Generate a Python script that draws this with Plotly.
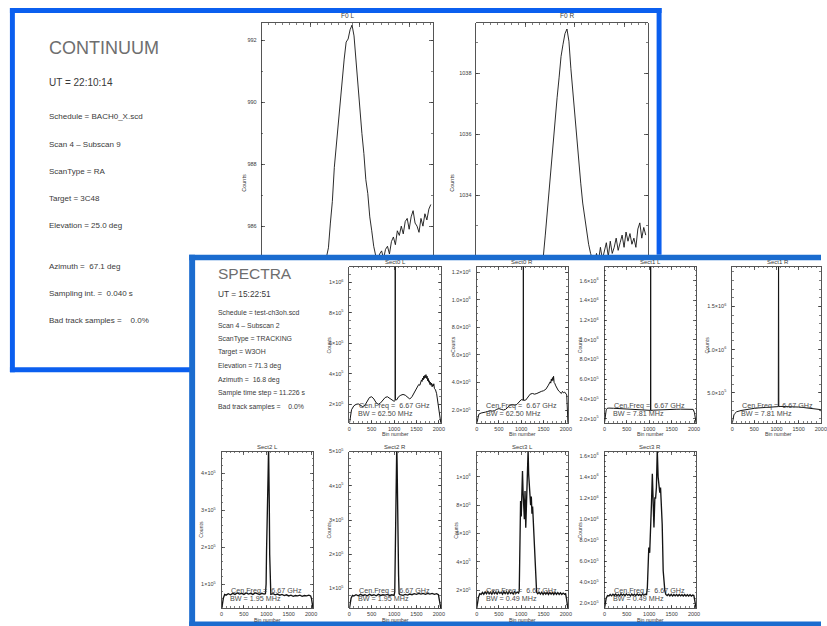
import plotly.graph_objects as go

W, H = 827, 626
FONT = "Liberation Sans"
INK = "#141414"
AXC = "#2a2a2a"
TXT = "#3a3a3a"
TITLE_C = "#6e6e6e"
BLUE_TOP = "#0b5fef"
BLUE_BOT = "#1b6ccf"

# ---------------------------------------------------------------- data
F0_STEP = 4  # samples between stored points of the continuum scans
F0_L_COUNTS = [
    984.2, 984.5, 984.3, 984.1, 984.4, 984.6, 984.3, 984.2, 984.5, 984.4,
    984.1, 984.3, 984.6, 984.4, 984.2, 984.5, 984.3, 984.4, 984.6, 984.2,
    984.3, 984.5, 984.4, 984.6, 984.3, 984.5, 984.7, 984.4, 984.6, 984.8,
    984.5, 984.7, 984.9,
    985.0, 985.3, 986.1, 986.8, 987.9, 988.6, 989.5, 990.1, 990.9, 991.4,
    991.95, 992.05, 992.35, 992.5, 992.15, 991.3, 990.4, 989.75, 989.0, 988.35,
    987.5, 987.05, 986.3, 985.85, 985.35, 985.05, 984.9, 985.1, 985.2, 984.95,
    985.25, 985.35, 985.1, 985.5, 985.65, 985.4, 985.85, 985.7, 986.0, 985.75,
    986.15, 986.25, 985.9, 986.3, 986.5, 986.1, 986.0, 985.8, 986.25, 986.0,
    986.4, 986.2, 986.55, 986.7,
]
F0_R_COUNTS = [
    1031.4, 1031.6, 1031.3, 1031.5, 1031.7, 1031.4, 1031.5, 1031.2, 1031.6, 1031.5,
    1031.3, 1031.7, 1031.4, 1031.6, 1031.5, 1031.3, 1031.6, 1031.8, 1031.5, 1031.4,
    1031.7, 1031.5, 1031.6, 1031.3, 1031.7, 1031.5, 1031.8, 1031.6, 1031.4, 1031.7,
    1031.5, 1031.8, 1031.6,
    1031.8, 1032.0, 1032.7, 1033.5, 1034.2, 1034.95, 1035.6, 1036.45, 1037.2, 1037.85,
    1038.55, 1038.95, 1039.3, 1039.45, 1039.05, 1038.15, 1037.35, 1036.85, 1035.95, 1035.25,
    1034.4, 1033.75, 1033.25, 1032.75, 1032.4, 1032.1, 1031.9, 1031.8, 1032.1, 1031.85,
    1032.3, 1031.9, 1032.2, 1032.45, 1032.0, 1032.5, 1032.1, 1032.3, 1032.6, 1032.2,
    1032.45, 1032.7, 1032.3, 1032.8, 1032.5, 1032.75, 1032.4, 1032.6, 1032.3, 1032.9,
    1033.1, 1032.6, 1032.95, 1032.7,
]
F0_L_TICKS = [986, 988, 990, 992]
F0_R_TICKS = [1034, 1036, 1038]
F0_NAMES = ["F0 L", "F0 R"]

# spectra: (bin number, counts in units of 1e5)
SECT0_L = [(0, 0.7), (20, 1.2), (50, 1.65), (100, 1.9), (150, 2.0), (200, 2.03), (250, 1.95),
           (300, 1.85), (350, 1.95), (400, 2.25), (450, 2.45), (500, 2.5), (550, 2.35), (600, 2.1),
           (650, 2.0), (700, 2.1), (750, 2.3), (800, 2.45), (850, 2.5), (900, 2.4), (950, 2.25),
           (1000, 2.2), (1022, 2.25), (1026, 12.0), (1030, 2.3), (1060, 2.3), (1100, 2.5),
           (1150, 2.6), (1200, 2.65), (1250, 2.6), (1300, 2.45), (1350, 2.35), (1400, 2.5),
           (1450, 2.8), (1500, 3.05), (1550, 3.3), (1575, 3.25), (1600, 3.45), (1612, 3.6),
           (1625, 3.5), (1637, 3.72), (1650, 3.6), (1662, 3.85), (1675, 3.7), (1687, 3.9),
           (1700, 3.75), (1712, 3.95), (1725, 3.7), (1737, 3.85), (1750, 3.55), (1762, 3.7),
           (1775, 3.45), (1787, 3.55), (1800, 3.3), (1812, 3.45), (1825, 3.25), (1837, 3.4),
           (1850, 3.15), (1862, 3.3), (1875, 3.2), (1887, 3.35), (1900, 3.05), (1925, 2.95),
           (1950, 2.7), (1975, 2.2), (2000, 1.6), (2020, 1.1), (2047, 0.7)]
SECT0_R = [(0, 1.0), (20, 1.4), (50, 1.7), (100, 1.78), (150, 1.8), (200, 1.85), (250, 1.9),
           (300, 1.95), (350, 1.92), (400, 1.95), (450, 2.05), (500, 2.1), (550, 2.05), (600, 2.0),
           (650, 2.05), (700, 2.2), (750, 2.35), (800, 2.4), (850, 2.35), (900, 2.4), (950, 2.55),
           (1000, 2.75), (1043, 2.72), (1047, 13.0), (1051, 2.7), (1100, 2.72), (1150, 2.95),
           (1200, 3.15), (1250, 3.2), (1300, 3.15), (1350, 3.2), (1400, 3.3), (1450, 3.35),
           (1500, 3.4), (1550, 3.5), (1600, 3.75), (1625, 3.9), (1650, 4.05), (1662, 3.95),
           (1675, 4.25), (1687, 4.1), (1700, 4.35), (1712, 4.15), (1725, 4.45), (1737, 4.0),
           (1750, 3.95), (1775, 3.75), (1800, 3.55), (1825, 3.45), (1850, 3.35), (1875, 3.3),
           (1900, 3.2), (1925, 3.35), (1950, 3.25), (1975, 3.3), (2000, 3.2), (2020, 3.1),
           (2035, 2.0), (2047, 1.0)]
SECT1_L = [(0, 1.5), (20, 2.4), (40, 2.9), (60, 3.05), (100, 3.08), (200, 3.06), (300, 3.04),
           (400, 3.0), (500, 2.98), (600, 2.95), (700, 2.92), (800, 2.9), (900, 2.88), (1000, 2.85),
           (1028, 2.85), (1032, 20.0), (1036, 2.85), (1100, 2.87), (1200, 2.9), (1300, 2.92),
           (1400, 2.94), (1500, 2.95), (1600, 2.96), (1700, 2.97), (1800, 2.97), (1900, 2.96),
           (1980, 2.95), (2010, 2.6), (2030, 2.0), (2047, 1.5)]
SECT1_R = [(0, 1.4), (20, 2.0), (40, 2.45), (60, 2.6), (100, 2.8), (200, 2.95), (300, 3.05),
           (400, 3.15), (500, 3.2), (600, 3.25), (700, 3.3), (800, 3.35), (900, 3.38), (1000, 3.4),
           (1040, 3.4), (1046, 25.0), (1052, 3.4), (1100, 3.42), (1200, 3.42), (1300, 3.4),
           (1400, 3.38), (1500, 3.35), (1600, 3.3), (1700, 3.25), (1800, 3.2), (1900, 3.12),
           (2000, 3.05), (2030, 2.5), (2047, 1.5)]
SECT2_L = [(0, 0.3), (15, 0.45), (40, 0.62), (70, 0.72), (100, 0.7), (150, 0.74), (200, 0.71),
           (250, 0.75), (300, 0.72), (350, 0.76), (400, 0.73), (450, 0.75), (500, 0.72), (550, 0.76),
           (600, 0.73), (650, 0.75), (700, 0.72), (750, 0.76), (800, 0.74), (850, 0.72), (900, 0.75),
           (950, 0.73), (980, 0.74), (995, 1.0), (1005, 1.9), (1015, 3.0), (1022, 2.8), (1030, 3.6),
           (1040, 4.0), (1050, 4.7), (1058, 4.3), (1066, 3.2), (1075, 1.8), (1085, 0.9), (1100, 0.72),
           (1150, 0.74), (1200, 0.71), (1250, 0.73), (1300, 0.7), (1350, 0.72), (1400, 0.69),
           (1450, 0.71), (1500, 0.68), (1550, 0.7), (1600, 0.67), (1650, 0.69), (1700, 0.68),
           (1750, 0.7), (1800, 0.67), (1850, 0.69), (1900, 0.68), (1950, 0.7), (1990, 0.68),
           (2010, 0.6), (2030, 0.45), (2047, 0.3)]
SECT2_R = [(0, 0.4), (15, 0.55), (40, 0.72), (70, 0.8), (100, 0.78), (150, 0.82), (200, 0.79),
           (250, 0.83), (300, 0.8), (350, 0.82), (400, 0.79), (450, 0.83), (500, 0.8), (550, 0.82),
           (600, 0.79), (650, 0.83), (700, 0.8), (750, 0.82), (800, 0.81), (850, 0.83), (900, 0.8),
           (950, 0.82), (1000, 0.8), (1015, 0.9), (1025, 1.8), (1035, 3.0), (1045, 4.4), (1052, 4.0),
           (1060, 5.2), (1068, 4.6), (1078, 3.2), (1088, 2.6), (1100, 1.4), (1112, 0.85), (1130, 0.82),
           (1200, 0.8), (1250, 0.83), (1300, 0.81), (1350, 0.84), (1400, 0.82), (1450, 0.85),
           (1500, 0.83), (1550, 0.86), (1600, 0.84), (1650, 0.86), (1700, 0.83), (1750, 0.86),
           (1800, 0.84), (1850, 0.86), (1900, 0.83), (1950, 0.85), (1990, 0.82), (2010, 0.7),
           (2030, 0.55), (2047, 0.4)]
SECT3_L = [(0, 0.7), (15, 1.1), (40, 1.5), (70, 1.75), (100, 1.7), (130, 1.85), (160, 1.72),
           (190, 1.88), (220, 1.75), (250, 1.9), (280, 1.74), (310, 1.86), (340, 1.72), (370, 1.9),
           (400, 1.76), (430, 1.87), (460, 1.73), (490, 1.9), (520, 1.78), (550, 1.86), (580, 1.72),
           (610, 1.89), (640, 1.76), (670, 1.88), (700, 1.74), (730, 1.9), (760, 1.77), (790, 1.86),
           (820, 1.73), (850, 1.9), (880, 1.78), (910, 1.87), (940, 1.8), (955, 1.95), (970, 4.3),
           (985, 8.3), (1000, 7.2), (1015, 8.8), (1028, 10.4), (1040, 9.0), (1055, 7.4), (1070, 7.0),
           (1085, 9.0), (1101, 6.4), (1115, 7.8), (1130, 9.8), (1142, 10.6), (1154, 11.9),
           (1166, 10.2), (1180, 9.5), (1195, 9.0), (1210, 8.0), (1226, 8.6), (1240, 7.4),
           (1255, 7.9), (1270, 6.8), (1285, 5.5), (1299, 4.3), (1315, 3.0), (1330, 2.2),
           (1345, 1.85), (1370, 1.75), (1400, 1.85), (1430, 1.72), (1460, 1.86), (1490, 1.7),
           (1520, 1.85), (1550, 1.72), (1580, 1.84), (1610, 1.7), (1640, 1.85), (1670, 1.72),
           (1700, 1.83), (1730, 1.7), (1760, 1.84), (1790, 1.71), (1820, 1.83), (1850, 1.7),
           (1880, 1.82), (1910, 1.7), (1940, 1.8), (1970, 1.72), (1995, 1.75), (2015, 1.4),
           (2035, 1.0), (2047, 0.7)]
SECT3_R = [(0, 1.5), (15, 2.0), (40, 2.5), (70, 2.75), (100, 2.7), (130, 2.85), (160, 2.72),
           (190, 2.88), (220, 2.75), (250, 2.9), (280, 2.74), (310, 2.86), (340, 2.72), (370, 2.9),
           (400, 2.76), (430, 2.87), (460, 2.73), (490, 2.9), (520, 2.78), (550, 2.86), (580, 2.72),
           (610, 2.89), (640, 2.76), (670, 2.88), (700, 2.74), (730, 2.9), (760, 2.77), (790, 2.86),
           (820, 2.73), (850, 2.9), (880, 2.78), (910, 2.87), (940, 2.85), (958, 3.5), (975, 5.0),
           (990, 7.3), (1010, 6.8), (1030, 10.5), (1050, 11.5), (1069, 14.3), (1085, 11.0),
           (1105, 9.2), (1125, 12.0), (1142, 12.0), (1160, 13.0), (1179, 16.6), (1198, 14.0),
           (1216, 12.7), (1235, 12.5), (1252, 13.0), (1270, 11.0), (1289, 9.5), (1311, 5.1),
           (1330, 3.8), (1348, 3.2), (1370, 2.85), (1400, 2.75), (1430, 2.88), (1460, 2.72),
           (1490, 2.86), (1520, 2.7), (1550, 2.85), (1580, 2.72), (1610, 2.84), (1640, 2.7),
           (1670, 2.85), (1700, 2.72), (1730, 2.83), (1760, 2.7), (1790, 2.84), (1820, 2.71),
           (1850, 2.83), (1880, 2.7), (1910, 2.82), (1940, 2.7), (1970, 2.8), (1995, 2.75),
           (2015, 2.3), (2035, 1.8), (2047, 1.5)]

SPEC_NAMES = ["Sect0 L", "Sect0 R", "Sect1 L", "Sect1 R", "Sect2 L", "Sect2 R", "Sect3 L", "Sect3 R"]
SPEC_DATA = [SECT0_L, SECT0_R, SECT1_L, SECT1_R, SECT2_L, SECT2_R, SECT3_L, SECT3_R]
SPEC_BW = ["62.50", "62.50", "7.81", "7.81", "1.95", "1.95", "0.49", "0.49"]
CEN_FREQ = "6.67"
BIN_TICKS = [0, 500, 1000, 1500, 2000]

Y_TICKS_A = [2, 4, 6, 8, 10]
Y_TEXT_A = ["2×10<sup>5</sup>", "4×10<sup>5</sup>", "6×10<sup>5</sup>", "8×10<sup>5</sup>", "1×10<sup>6</sup>"]
Y_TICKS_B = [2, 4, 6, 8, 10, 12]
Y_TEXT_B = ["2.0×10<sup>5</sup>", "4.0×10<sup>5</sup>", "6.0×10<sup>5</sup>", "8.0×10<sup>5</sup>",
            "1.0×10<sup>6</sup>", "1.2×10<sup>6</sup>"]
Y_TICKS_C = [2, 4, 6, 8, 10, 12, 14, 16]
Y_TEXT_C = Y_TEXT_B + ["1.4×10<sup>6</sup>", "1.6×10<sup>6</sup>"]
Y_TICKS_D = [5, 10, 15]
Y_TEXT_D = ["5.0×10<sup>5</sup>", "1.0×10<sup>6</sup>", "1.5×10<sup>6</sup>"]
Y_TICKS_E = [1, 2, 3, 4]
Y_TEXT_E = ["1×10<sup>5</sup>", "2×10<sup>5</sup>", "3×10<sup>5</sup>", "4×10<sup>5</sup>"]
Y_TICKS_F = [1, 2, 3, 4, 5]
Y_TEXT_F = Y_TEXT_E + ["5×10<sup>5</sup>"]

CONT_TITLE = "CONTINUUM"
CONT_LINES = ["UT = 22:10:14", "Schedule = BACH0_X.scd", "Scan 4 – Subscan 9", "ScanType = RA",
              "Target = 3C48", "Elevation = 25.0 deg", "Azimuth = \u00a067.1 deg",
              "Sampling int. = \u00a00.040 s", "Bad track samples = \u00a0\u00a0\u00a00.0%"]
SPEC_TITLE = "SPECTRA"
SPEC_LINES = ["UT = 15:22:51", "Schedule = test-ch3oh.scd", "Scan 4 – Subscan 2",
              "ScanType = TRACKING", "Target = W3OH", "Elevation = 71.3 deg",
              "Azimuth = \u00a016.8 deg", "Sample time step = 11.226 s",
              "Bad track samples = \u00a0\u00a0\u00a00.0%"]

# ---------------------------------------------------------------- layout helpers
def px(x):
    return x / W


def py(y):
    return 1 - y / H


ann = []
shp = []
lay = {}
fig = go.Figure()


def txt(x, y, s, size, color=TXT, xanchor="left", angle=0):
    ann.append(dict(x=px(x), y=py(y), xref="paper", yref="paper", text=s, showarrow=False,
                    xanchor=xanchor, yanchor="middle", textangle=angle, borderpad=0,
                    font=dict(family=FONT, size=size, color=color)))


def base_axis():
    return dict(showgrid=False, zeroline=False, showline=True, linecolor=AXC, linewidth=0.8,
                ticks="inside", tickcolor=AXC, tickwidth=0.7,
                tickfont=dict(family=FONT, size=5.5, color=TXT))


def minor(dt, ln=1.6):
    return dict(ticks="inside", ticklen=ln, dtick=dt, tickcolor=AXC, tickwidth=0.6, showgrid=False)


def rect(x0, y0, x1, y1, color):
    shp.append(dict(type="rect", xref="paper", yref="paper", x0=px(x0), x1=px(x1),
                    y0=py(y1), y1=py(y0), fillcolor=color, line=dict(width=0), layer="above"))


# ---------------------------------------------------------------- continuum panel
F0_FRAMES = [(262, 435, 20, 255), (479, 652, 20, 255)]
F0_YRANGES = [(985.01, 992.57), (1031.99, 1039.65)]
F0_COUNTS = [F0_L_COUNTS, F0_R_COUNTS]
F0_TICKS = [F0_L_TICKS, F0_R_TICKS]

for k in range(2):
    n = k + 1
    xid, yid = ("x", "y") if n == 1 else (f"x{n}", f"y{n}")
    xkey, ykey = ("xaxis", "yaxis") if n == 1 else (f"xaxis{n}", f"yaxis{n}")
    x0, x1, y0, y1 = F0_FRAMES[k]
    counts = F0_COUNTS[k]
    samples = [i * F0_STEP for i in range(len(counts))]
    fig.add_trace(go.Scatter(x=samples, y=counts, mode="lines", xaxis=xid, yaxis=yid,
                             line=dict(color=INK, width=0.9), hoverinfo="skip"))
    ax = base_axis()
    ax.update(domain=[px(x0), px(x1)], range=[0, 348], side="top", anchor=yid,
              showticklabels=False, ticklen=4, tickvals=[100, 200, 300], minor=minor(100 / 7, 2))
    lay[xkey] = ax
    ay = base_axis()
    ay.update(domain=[py(y1), py(y0)], range=list(F0_YRANGES[k]), anchor=xid, mirror="ticks",
              ticklen=4, tickvals=F0_TICKS[k], ticktext=[str(v) for v in F0_TICKS[k]],
              ticklabelstandoff=3, minor=minor(1, 2))
    lay[ykey] = ay
    txt((x0 + x1) / 2 + (0 if k == 0 else 5), 13, F0_NAMES[k], 6.5, xanchor="center")
    txt(x0 - (17 if k == 0 else 24), 181, "Counts", 5.5, xanchor="center", angle=-90)

txt(46, 45, CONT_TITLE, 18, color=TITLE_C)
cont_y = [80, 114, 141.7, 169, 196, 223.3, 264.3, 291.7, 319]
for i, s in enumerate(CONT_LINES):
    txt(46, cont_y[i], s, 10 if i == 0 else 8)

# ---------------------------------------------------------------- spectra panel
COLS = [(221.7, 314.3), (350.7, 443.3), (479.3, 571.5), (608.3, 701), (737.3, 827)]
ROWS = [(265, 421.7), (450.7, 608)]
SPEC_POS = [(1, 0), (2, 0), (3, 0), (4, 0), (0, 1), (1, 1), (2, 1), (3, 1)]
SPEC_YR = [(0.8, 11.02), (1.08, 12.4), (1.6, 17.41), (1.54, 19.6),
           (0.35, 4.59), (0.43, 5.0), (0.74, 11.78), (1.56, 16.4)]
SPEC_YT = [(Y_TICKS_A, Y_TEXT_A, 0.5, 20.7), (Y_TICKS_B, Y_TEXT_B, 0.5, 24.5),
           (Y_TICKS_C, Y_TEXT_C, 0.5, 25), (Y_TICKS_D, Y_TEXT_D, 1.0, 25.5),
           (Y_TICKS_E, Y_TEXT_E, 0.2, 20.7), (Y_TICKS_F, Y_TEXT_F, 0.2, 20.7),
           (Y_TICKS_A, Y_TEXT_A, 0.5, 21), (Y_TICKS_C, Y_TEXT_C, 0.5, 25)]

for k in range(8):
    n = k + 3
    xid, yid = f"x{n}", f"y{n}"
    c, r = SPEC_POS[k]
    x0, x1 = COLS[c]
    y0, y1 = ROWS[r]
    data = SPEC_DATA[k]
    fig.add_trace(go.Scatter(x=[b for b, _ in data], y=[v for _, v in data], mode="lines",
                             xaxis=xid, yaxis=yid,
                             line=dict(color=INK, width=1.0 if r == 0 else 1.35),
                             hoverinfo="skip"))
    xr = [0, 2003] if c == 4 else [0, 2048]
    ax = base_axis()
    ax.update(domain=[px(x0), px(x1)], range=xr, anchor=yid, mirror="allticks", ticklen=3,
              tickvals=BIN_TICKS, ticktext=[str(v) for v in BIN_TICKS], ticklabelstandoff=1,
              ticklabeloverflow="allow", minor=minor(100))
    lay[f"xaxis{n}"] = ax
    tv, tt, mdt, cofs = SPEC_YT[k]
    ay = base_axis()
    ay.update(domain=[py(y1), py(y0)], range=list(SPEC_YR[k]), anchor=xid, mirror="allticks",
              ticklen=3, tickvals=tv, ticktext=tt, ticklabelstandoff=4, minor=minor(mdt))
    lay[f"yaxis{n}"] = ay
    txt((x0 + x1) / 2 if c < 4 else x0 + 46.3, y0 - 4.5, SPEC_NAMES[k], 6, xanchor="center")
    txt(x0 - cofs, (y0 + y1) / 2, "Counts", 5.2, xanchor="center", angle=-90)
    txt((x0 + x1) / 2 if c < 4 else x0 + 46.3, y1 + 11.5, "Bin number", 5.2, xanchor="center")
    txt(x0 + 8.5, y1 - 17.4, f"Cen.Freq = \u00a0{CEN_FREQ} GHz", 7.2, color="#4a4a4a")
    txt(x0 + 8, y1 - 9.3, f"BW = {SPEC_BW[k]} MHz", 7.2, color="#4a4a4a")

txt(217, 272.3, SPEC_TITLE, 15.5, color=TITLE_C)
spec_y = [292.7, 311, 324, 337.7, 351, 365, 378.7, 392.3, 405.7]
for i, s in enumerate(SPEC_LINES):
    txt(217, spec_y[i], s, 8.3 if i == 0 else 6.9)

# ---------------------------------------------------------------- window borders
# continuum window (partly hidden behind the spectra window)
rect(8, 5, 666, 10, BLUE_TOP)
rect(8, 5, 13, 371, BLUE_TOP)
rect(661, 5, 666, 253, BLUE_TOP)
rect(8, 366, 190, 371, BLUE_TOP)
# spectra window
rect(189, 253, 827, 258.5, BLUE_BOT)
rect(189, 253, 195, 626, BLUE_BOT)
rect(189, 621.5, 827, 626, BLUE_BOT)

fig.update_layout(width=W, height=H, margin=dict(l=0, r=0, t=0, b=0),
                  paper_bgcolor="white", plot_bgcolor="rgba(0,0,0,0)", showlegend=False,
                  font=dict(family=FONT, color=TXT), annotations=ann, shapes=shp, **lay)
fig.write_html("out.html", config={"displayModeBar": False, "staticPlot": True},
               post_script="document.body.style.margin='0';document.body.style.overflow='hidden';")
